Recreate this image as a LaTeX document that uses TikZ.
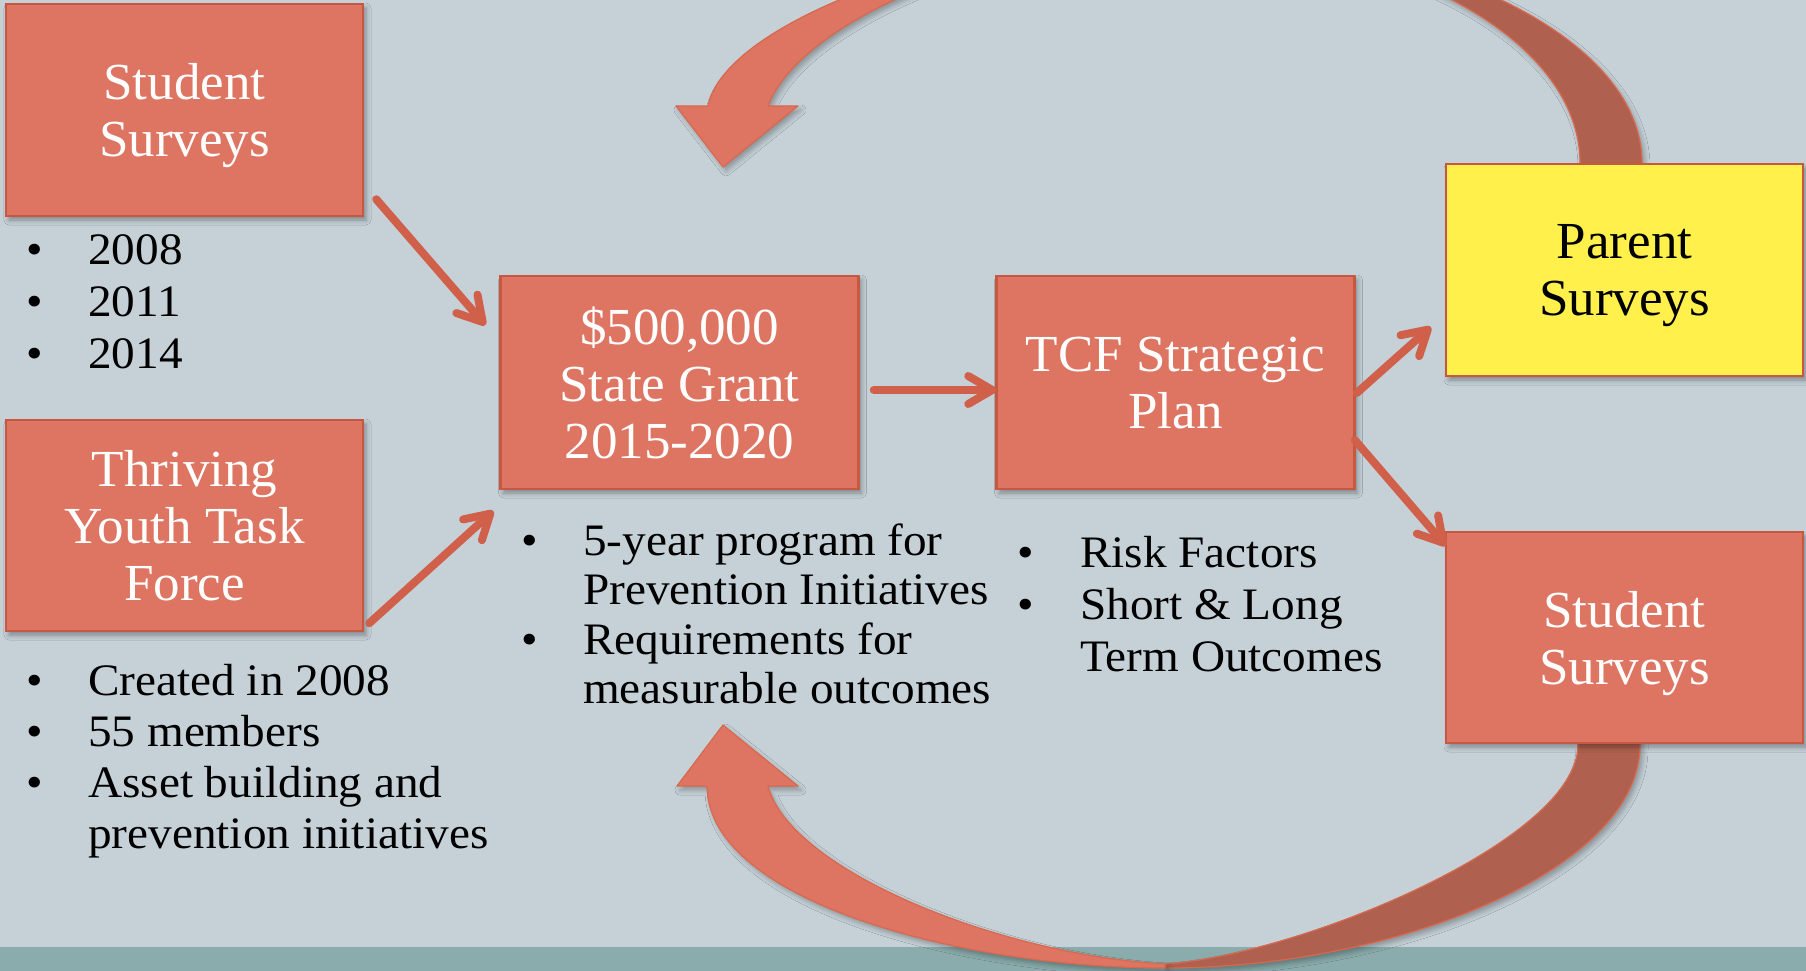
\documentclass[tikz,border=0pt]{standalone}
\usepackage{fontspec}
\setmainfont{Liberation Serif}[FakeStretch=1.02]
\newfontfamily\bodyfont{Liberation Serif}[FakeStretch=1.05]
\usetikzlibrary{arrows.meta,calc,shadows.blur}
\definecolor{bg}{HTML}{C5D1D7}
\definecolor{strip}{HTML}{8AACAC}
\definecolor{boxfill}{HTML}{DD7562}
\definecolor{boxline}{HTML}{C65740}
\definecolor{arrowline}{HTML}{D1604A}
\definecolor{ribbondark}{HTML}{B0604E}
\definecolor{ribbonlight}{HTML}{DD7562}
\definecolor{ribbonedge}{HTML}{D9684F}
\definecolor{yellowbox}{HTML}{FFF04C}
\begin{document}
\begin{tikzpicture}[x=1pt,y=-1pt,
  box/.style={draw=boxline, line width=2.5pt, fill=boxfill, minimum width=357pt,
    minimum height=212pt, inner sep=0pt, text=white, align=center,
    font=\fontsize{52}{57}\selectfont, text depth=0pt,
    blur shadow={shadow xshift=3pt, shadow yshift=-4pt, shadow blur radius=5pt, shadow opacity=35}},
  conn/.style={draw=arrowline, line width=8pt, line cap=round,
    -{Straight Barb[length=24pt,width=28pt,round]}},
  ribbon/.style={draw=ribbonedge, line width=1.2pt, line join=round,
    blur shadow={shadow xshift=3pt, shadow yshift=-4pt, shadow blur radius=5pt, shadow opacity=30}},
  blist/.style={inner sep=0pt, anchor=base west, text=black, align=left}]
\useasboundingbox (0,0) rectangle (1806,971);
\clip (0,0) rectangle (1806,971);
\fill[bg] (0,0) rectangle (1806,947);
\fill[strip] (0,947) rectangle (1806,971);

% top curved arrow
\path[ribbon, fill=ribbondark] (1170,-66) .. controls (1431,-66) and (1642,37) .. (1642,163)
  -- (1642,190) -- (1580,190) -- (1580,163) .. controls (1580,39) and (1396,-62) .. (1170,-62) -- cycle;
\path[ribbon, fill=ribbonlight] (676,106) -- (723,167) -- (798,106) -- (768,106)
  .. controls (800,20) and (1000,-62) .. (1170,-62) -- (1170,-66)
  .. controls (970,-66) and (725,20) .. (708,106) -- cycle;

% bottom curved arrow
\path[ribbon, fill=ribbondark] (1165,964) .. controls (1300,955) and (1578,840) .. (1578,745)
  -- (1578,720) -- (1640,720) -- (1640,745) .. controls (1640,868) and (1400,968) .. (1165,968) -- cycle;
\path[ribbon, fill=ribbonlight] (677,786) -- (723,725) -- (798,786) -- (768,786)
  .. controls (790,870) and (1000,955) .. (1165,964) -- (1165,968)
  .. controls (960,968) and (707,900) .. (707,786) -- cycle;

% boxes
\node[box] (ss1) at (184.5,110) {Student\\Surveys};
\node[box, minimum height=211pt] (thr) at (184.5,525.5) {Thriving\\Youth Task\\Force};
\node[box, minimum width=358pt, minimum height=213pt] (grant) at (679.5,382.5) {\$500,000\\State Grant\\2015-2020};
\node[box, minimum width=358pt, minimum height=213pt] (tcf) at (1175.5,382.5) {TCF Strategic\\Plan};
\node[box, fill=yellowbox, text=black] (par) at (1624.5,270) {Parent\\Surveys};
\node[box, minimum height=211pt] (ss2) at (1624.5,637.5) {Student\\Surveys};

% connectors
\draw[conn] ($(ss1.south east)+(12,-18)$) -- ($(grant.west)+(-14,-57.5)$);
\draw[conn] ($(thr.south east)+(5,-9)$) -- ($(grant.west)+(-6,128.5)$);
\draw[conn] ($(grant.east)+(14,7.5)$) -- ($(tcf.west)+(1,7.5)$);
\draw[conn] ($(tcf.east)+(1,10.5)$) -- ($(par.west)+(-14,57)$);
\draw[conn] ($(tcf.east)+(-1,57.5)$) -- ($(ss2.north west)+(1,15)$);

% bullet lists
\node[blist] (l1) at (26,264) {\bodyfont\fontsize{45}{52}\selectfont
  \begin{tabular}[t]{@{}p{62pt}@{}l@{}}\textbullet & 2008\\ \textbullet & 2011\\ \textbullet & 2014\end{tabular}};
\node[blist] (l2) at (26,695) {\bodyfont\fontsize{45}{51}\selectfont
  \begin{tabular}[t]{@{}p{62pt}@{}l@{}}\textbullet & Created in 2008\\ \textbullet & 55 members\\
  \textbullet & Asset building and\\ & prevention initiatives\end{tabular}};
\node[blist] (l3) at (521,555) {\bodyfont\fontsize{45}{49.5}\selectfont
  \begin{tabular}[t]{@{}p{62pt}@{}l@{}}\textbullet & 5-year program for\\ & Prevention Initiatives\\
  \textbullet & Requirements for\\ & measurable outcomes\end{tabular}};
\node[blist] (l4) at (1017,567) {\bodyfont\fontsize{45}{52}\selectfont
  \begin{tabular}[t]{@{}p{63pt}@{}l@{}}\textbullet & Risk Factors\\ \textbullet & Short \& Long\\
  & Term Outcomes\end{tabular}};
\end{tikzpicture}
\end{document}
